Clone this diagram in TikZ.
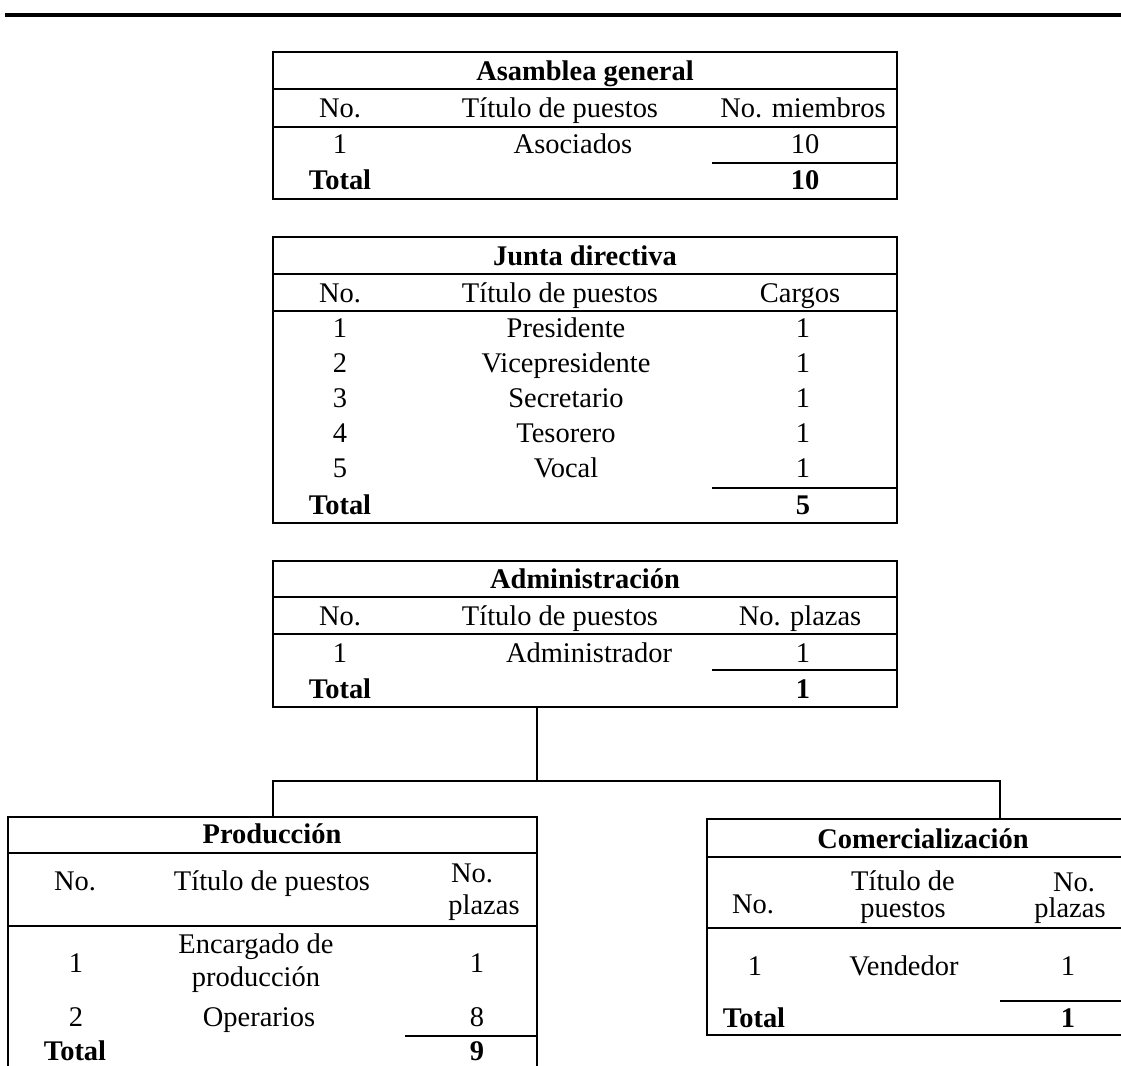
\documentclass[tikz,border=0pt]{standalone}
\usepackage{fontspec}
\setmainfont{Liberation Serif}
\usetikzlibrary{fit}

\tikzset{caja:style/.style={draw,line width=0.85pt,inner sep=0pt}}
\tikzset{linea:style/.style={line width=0.85pt}}
\tikzset{enlace:style/.style={draw,line width=1.2pt}}
\tikzset{celda:style/.style={anchor=base,inner sep=0pt,font=\fontsize{16.2pt}{19pt}\selectfont}}
\def\titulo{\bfseries}
\def\xNo{340}
\def\xTit{560}
\def\xNum{803}

\begin{document}
\begin{tikzpicture}[x=0.02cm,y=-0.02cm]
	
	\path[use as bounding box,clip] (0,0) rectangle (1121,1065);
	\draw[line width=1.8pt] (5,15) -- (1121,15);
	
	\path node[caja:style,fit={(273,52) (897,199)}] (asamblea) {};
	\path node[caja:style,fit={(273,237) (897,523)}] (junta) {};
	\path node[caja:style,fit={(273,561) (897,707)}] (admin) {};
	\path node[caja:style,fit={(8,817) (537,1085)}] (produccion) {};
	\path node[caja:style,fit={(707,819) (1140,1035)}] (comercial) {};
	
	\draw[linea:style] (273,89) -- (897,89) (273,127) -- (897,127) (712,163) -- (897,163);
	\draw[linea:style] (273,274) -- (897,274) (273,311) -- (897,311) (712,488) -- (897,488);
	\draw[linea:style] (273,597) -- (897,597) (273,634) -- (897,634) (712,670) -- (897,670);
	\draw[linea:style] (8,853) -- (537,853) (8,926) -- (537,926) (405,1036) -- (537,1036);
	\draw[linea:style] (707,857) -- (1140,857) (707,928) -- (1140,928) (1000,1001) -- (1140,1001);
	
	\path (585,80) node[celda:style] (asm-t) {\titulo Asamblea general};
	\path (\xNo,117) node[celda:style] (asm-h1) {No.};
	\path (\xTit,117) node[celda:style] (asm-h2) {Título de puestos};
	\path (\xNum,117) node[celda:style] (asm-h3) {No. miembros};
	\path (\xNo,153) node[celda:style] (asm-n1) {1};
	\path (573,153) node[celda:style] (asm-p1) {Asociados};
	\path (805,153) node[celda:style] (asm-c1) {10};
	\path (\xNo,189) node[celda:style] (asm-tot) {\titulo Total};
	\path (805,189) node[celda:style] (asm-sum) {\titulo 10};
	
	\path (585,265) node[celda:style] (jun-t) {\titulo Junta directiva};
	\path (\xNo,302) node[celda:style] (jun-h1) {No.};
	\path (\xTit,302) node[celda:style] (jun-h2) {Título de puestos};
	\path (800,302) node[celda:style] (jun-h3) {Cargos};
	\foreach \puesto [count=\i] in {Presidente,Vicepresidente,Secretario,Tesorero,Vocal} {
		\path (\xNo,302+35*\i) node[celda:style] (jun-n\i) {\i};
		\path (566,302+35*\i) node[celda:style] (jun-p\i) {\puesto};
		\path (803,302+35*\i) node[celda:style] (jun-c\i) {1};
	}
	\path (\xNo,514) node[celda:style] (jun-tot) {\titulo Total};
	\path (803,514) node[celda:style] (jun-sum) {\titulo 5};
	
	\path (585,588) node[celda:style] (adm-t) {\titulo Administración};
	\path (\xNo,625) node[celda:style] (adm-h1) {No.};
	\path (\xTit,625) node[celda:style] (adm-h2) {Título de puestos};
	\path (800,625) node[celda:style] (adm-h3) {No. plazas};
	\path (\xNo,662) node[celda:style] (adm-n1) {1};
	\path (589,662) node[celda:style] (adm-p1) {Administrador};
	\path (803,662) node[celda:style] (adm-c1) {1};
	\path (\xNo,698) node[celda:style] (adm-tot) {\titulo Total};
	\path (803,698) node[celda:style] (adm-sum) {\titulo 1};
	
	\path (272,843) node[celda:style] (pro-t) {\titulo Producción};
	\path (75,890) node[celda:style] (pro-h1) {No.};
	\path (272,890) node[celda:style] (pro-h2) {Título de puestos};
	\path (472,882) node[celda:style] (pro-h3a) {No.};
	\path (484,914) node[celda:style] (pro-h3b) {plazas};
	\path (76,972) node[celda:style] (pro-n1) {1};
	\path (256,953) node[celda:style] (pro-p1a) {Encargado de};
	\path (256,986) node[celda:style] (pro-p1b) {producción};
	\path (477,972) node[celda:style] (pro-c1) {1};
	\path (76,1026) node[celda:style] (pro-n2) {2};
	\path (259,1026) node[celda:style] (pro-p2) {Operarios};
	\path (477,1026) node[celda:style] (pro-c2) {8};
	\path (75,1060) node[celda:style] (pro-tot) {\titulo Total};
	\path (477,1060) node[celda:style] (pro-sum) {\titulo 9};
	
	\path (923,848) node[celda:style] (com-t) {\titulo Comercialización};
	\path (753,913) node[celda:style] (com-h1) {No.};
	\path (903,890) node[celda:style] (com-h2a) {Título de};
	\path (903,917) node[celda:style] (com-h2b) {puestos};
	\path (1074,891) node[celda:style] (com-h3a) {No.};
	\path (1070,917) node[celda:style] (com-h3b) {plazas};
	\path (755,975) node[celda:style] (com-n1) {1};
	\path (904,975) node[celda:style] (com-p1) {Vendedor};
	\path (1068,975) node[celda:style] (com-c1) {1};
	\path (754,1027) node[celda:style] (com-tot) {\titulo Total};
	\path (1068,1027) node[celda:style] (com-sum) {\titulo 1};
	
	\coordinate (c-rama) at (537,781);
	\coordinate (c-prod) at (273,781);
	\coordinate (c-com) at (1000,781);
	\path[enlace:style] (admin.south -| c-rama) -- (c-rama);
	\path[enlace:style] (c-prod |- produccion.north) -- (c-prod) -- (c-com) -- (c-com |- comercial.north);
	
\end{tikzpicture}
\end{document}
